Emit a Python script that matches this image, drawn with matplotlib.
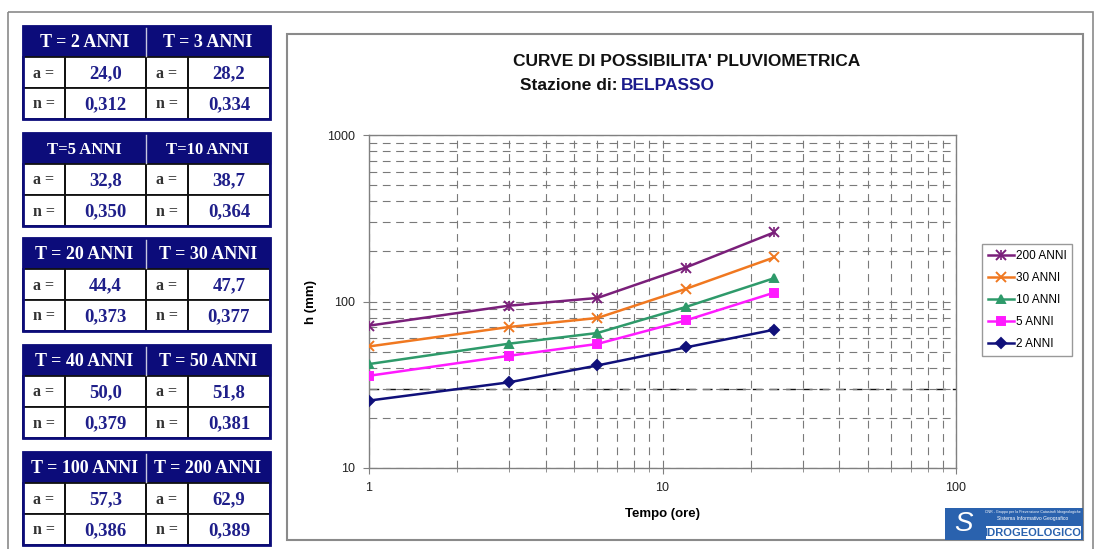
import matplotlib
matplotlib.use("Agg")
import matplotlib.pyplot as plt
from matplotlib.patches import Rectangle
from matplotlib.ticker import FixedLocator, FixedFormatter, NullFormatter
from matplotlib.lines import Line2D

# ---------------- data ----------------
durations = [1, 3, 6, 12, 24]
h_200 = [71.6, 94.4, 105, 160, 260]
h_30 = [53.7, 70.3, 79.6, 119, 184]
h_10 = [42.1, 55.8, 64.7, 92.7, 138]
h_5 = [35.8, 47.2, 55.6, 77.0, 113]
h_2 = [25.4, 32.7, 41.3, 53.0, 67.7]
series_labels = ["200 ANNI", "30 ANNI", "10 ANNI", "5 ANNI", "2 ANNI"]

table_headers = ["T = 2 ANNI", "T = 3 ANNI", "T=5 ANNI", "T=10 ANNI",
                 "T = 20 ANNI", "T = 30 ANNI", "T = 40 ANNI", "T = 50 ANNI",
                 "T = 100 ANNI", "T = 200 ANNI"]
a_values = [24.0, 28.2, 32.8, 38.7, 44.4, 47.7, 50.0, 51.8, 57.3, 62.9]
n_values = [0.312, 0.334, 0.350, 0.364, 0.373, 0.377, 0.379, 0.381, 0.386, 0.389]

title = "CURVE DI POSSIBILITA' PLUVIOMETRICA"
station = "BELPASSO"
reference_level = 30

W, H = 1096, 549
fig = plt.figure(figsize=(W / 100, H / 100), dpi=100)
fig.patch.set_facecolor("white")

bg = fig.add_axes([0, 0, 1, 1])
bg.set_xlim(0, W)
bg.set_ylim(H, 0)
bg.axis("off")

NAVY = "#0c0c7a"
VAL = "#1f1f8a"
serif = "Liberation Serif"
sans = "Liberation Sans"

# outer frame
bg.add_patch(Rectangle((8, 12), 1085, 540, fill=False, ec="#8a8a8a", lw=1.2))
# chart panel
bg.add_patch(Rectangle((287, 34), 796, 506, fill=False, ec="#8a8a8a", lw=1.5))

# ---------------- tables ----------------
x0, xl1, xm, xl2, x1 = 23, 65, 146, 188, 270
tops = [26, 133, 238, 345, 452]
hh, rh = 31, 31
for k, top in enumerate(tops):
    i1, i2 = 2 * k, 2 * k + 1
    bg.add_patch(Rectangle((x0, top), x1 - x0, hh, fc=NAVY, ec=NAVY, lw=1))
    bg.plot([xm, xm], [top + 2, top + hh - 1], color="#c8c8e0", lw=1)
    hs = 12 if "T=" in table_headers[i1] else 13
    bg.text((x0 + xm) / 2, top + hh / 2 + 1, table_headers[i1], color="white",
            fontsize=hs, fontweight="bold", family=serif, ha="center", va="center")
    bg.text((xm + x1) / 2, top + hh / 2 + 1, table_headers[i2], color="white",
            fontsize=hs, fontweight="bold", family=serif, ha="center", va="center")
    for r, (lab, vals) in enumerate([("a =", a_values), ("n =", n_values)]):
        y = top + hh + r * rh
        bg.add_patch(Rectangle((x0, y), x1 - x0, rh, fc="white", ec="none"))
        for xa, xb in [(x0, xl1), (xl1, xm), (xm, xl2), (xl2, x1)]:
            bg.add_patch(Rectangle((xa, y), xb - xa, rh, fill=False, ec="#111111", lw=1.3))
        fmt = "{:.1f}" if r == 0 else "{:.3f}"
        bg.text((x0 + xl1) / 2, y + rh / 2 + 1, lab, fontsize=11.5, fontweight="bold",
                family=serif, color="#333333", ha="center", va="center")
        bg.text((xm + xl2) / 2, y + rh / 2 + 1, lab, fontsize=11.5, fontweight="bold",
                family=serif, color="#333333", ha="center", va="center")
        bg.text((xl1 + xm) / 2, y + rh / 2 + 1, fmt.format(vals[i1]).replace(".", ","),
                fontsize=13.5, fontweight="bold", family=serif, color=VAL, ha="center", va="center")
        bg.text((xl2 + x1) / 2, y + rh / 2 + 1, fmt.format(vals[i2]).replace(".", ","),
                fontsize=13.5, fontweight="bold", family=serif, color=VAL, ha="center", va="center")
    bg.add_patch(Rectangle((x0, top), x1 - x0, hh + 2 * rh, fill=False, ec=NAVY, lw=2))

# ---------------- titles ----------------
bg.text(687, 62, title, fontsize=12.5, fontweight="bold", family=sans,
        ha="center", va="center", color="#111111")
t1 = bg.text(520, 86, "Stazione di: ", fontsize=12.5, fontweight="bold", family=sans,
             ha="left", va="center", color="#111111")
fig.canvas.draw()
bb = t1.get_window_extent()
xs = bg.transData.inverted().transform((bb.x1, bb.y0))[0]
bg.text(xs - 2, 86, station, fontsize=12.5, fontweight="bold", family=sans,
        ha="left", va="center", color="#1a1a8c")

# ---------------- logo ----------------
bg.add_patch(Rectangle((945, 508), 138, 32, fc="#2a62ae", ec="none"))
bg.text(963, 524, "S", fontsize=20, color="white", family=sans, ha="center", va="center",
        style="italic")
bg.add_patch(Rectangle((986, 526), 95, 13, fc="white", ec="none"))
bg.text(1033, 533, "IDROGEOLOGICO", fontsize=8, color="#2a62ae", family=sans,
        fontweight="bold", ha="center", va="center")
bg.text(1033, 518.5, "Sistema Informativo Geografico", fontsize=3.6, color="white",
        family=sans, ha="center", va="center")
bg.text(1033, 511.5, "CNR - Gruppo per la Prevenzione Catastrofi Idrogeologiche", fontsize=2.6,
        color="white", family=sans, ha="center", va="center")

# ---------------- chart ----------------
ax = fig.add_axes([369 / W, 1 - 468 / H, (956 - 369) / W, (468 - 135) / H])
ax.set_xscale("log")
ax.set_yscale("log")
ax.set_xlim(1, 100)
ax.set_ylim(10, 1000)

grid_kw = dict(color="#7a7a7a", lw=0.8, dashes=(7, 5))
ax.grid(True, which="both", axis="both", **grid_kw)
ax.axhline(reference_level, color="#111111", lw=1.0, dashes=(7, 5), zorder=1.5)

styles = [
    (h_200, "#7a1f7a", "x", 7),
    (h_30, "#f07820", "x", 6.5),
    (h_10, "#2e9a6a", "^", 6),
    (h_5, "#ff1aff", "s", 6),
    (h_2, "#10107a", "D", 5),
]
handles = []
for (vals, col, mk, ms), lab in zip(styles, series_labels):
    ln, = ax.plot(durations, vals, color=col, lw=1.8, marker=mk, ms=ms, mew=1.4,
                  label=lab, zorder=3)
    if lab == "200 ANNI":
        ax.plot(durations, vals, ls="none", marker="|", ms=ms, mew=1.2, color=col, zorder=3)
        ln = (ln, Line2D([], [], ls="none", marker="|", ms=ms, mew=1.2, color=col))
    handles.append(ln)

for s in ax.spines.values():
    s.set_color("#808080")
    s.set_linewidth(1)

ax.xaxis.set_major_locator(FixedLocator([1, 10, 100]))
ax.xaxis.set_major_formatter(FixedFormatter(["1", "10", "100"]))
ax.xaxis.set_minor_formatter(NullFormatter())
ax.yaxis.set_major_locator(FixedLocator([10, 100, 1000]))
ax.yaxis.set_major_formatter(FixedFormatter(["10", "100", "1000"]))
ax.yaxis.set_minor_formatter(NullFormatter())
ax.tick_params(axis="both", which="major", length=4, color="#808080", labelsize=9,
               labelcolor="#222222", pad=6)
ax.tick_params(axis="x", which="minor", length=3, color="#808080")
ax.tick_params(axis="y", which="minor", length=0)
for lbl in ax.get_xticklabels() + ax.get_yticklabels():
    lbl.set_family(sans)

ax.set_xlabel("Tempo (ore)", fontsize=9.5, fontweight="bold", family=sans, labelpad=10)
ax.set_ylabel("h (mm)", fontsize=9.5, fontweight="bold", family=sans, labelpad=7)

leg = ax.legend(handles, series_labels, loc="upper left",
                bbox_to_anchor=(982 / W, 1 - 244 / H), bbox_transform=fig.transFigure,
                frameon=True, fancybox=False, edgecolor="#808080", fontsize=8.5,
                handlelength=2.2, handletextpad=0.15, borderpad=0.5, labelspacing=0.85,
                borderaxespad=0)
leg.get_frame().set_linewidth(1)
for t in leg.get_texts():
    t.set_family(sans)

fig.savefig("out.png", dpi=100, facecolor="white")
